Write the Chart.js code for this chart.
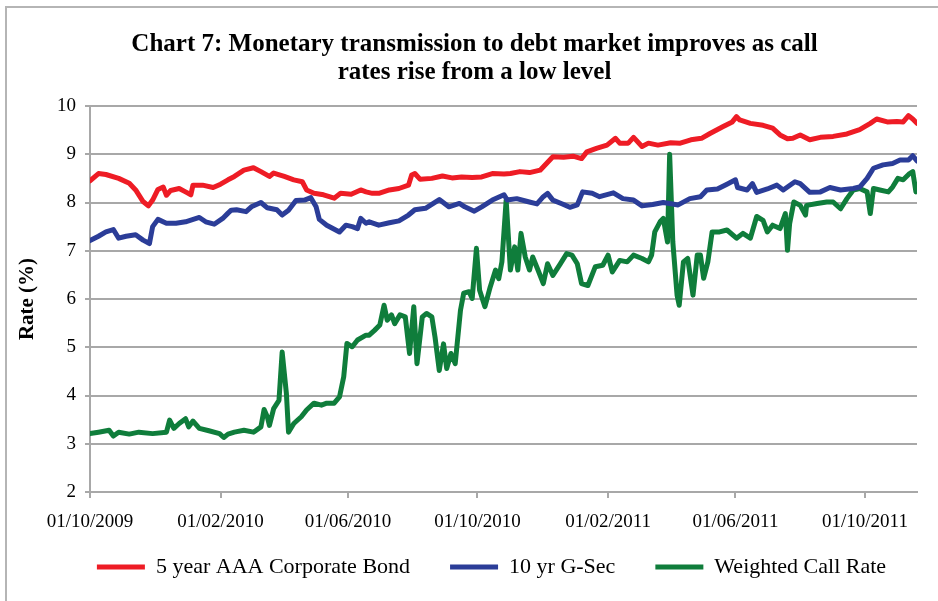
<!DOCTYPE html>
<html>
<head>
<meta charset="utf-8">
<script src="https://cdn.jsdelivr.net/npm/chart.js@4"></script>
<style>
  html, body { margin: 0; padding: 0; background: #fff; }
  #wrap { position: relative; width: 938px; height: 601px; }
  #frame { position: absolute; left: 5px; top: 6px; right: 0; bottom: 0;
           border-top: 2px solid #b5b5b5; border-left: 2px solid #b5b5b5; pointer-events: none; }
  canvas { position: absolute; left: 0; top: 0; }
</style>
</head>
<body>
<div id="wrap">
  <canvas id="c" width="938" height="601"></canvas>
  <div id="frame"></div>
</div>
<script>
// Start date of the x axis (day 0) and the labelled tick dates
const startDate = '01/10/2009';
const tickDates = ['01/10/2009', '01/02/2010', '01/06/2010', '01/10/2010', '01/02/2011', '01/06/2011', '01/10/2011'];
const lastDay = 779; // about 18/11/2011

const seriesNames = ['5 year AAA Corporate Bond', '10 yr G-Sec', 'Weighted Call Rate'];

// 5 year AAA Corporate Bond (days since 01/10/2009, rate %)
const bondDays = [0,8,15,27,37,43,50,55,59,64,69,72,76,84,90,95,97,106,116,123,130,136,145,154,161,169,173,183,192,200,204,211,220,230,236,246,255,260,266,272,282,291,300,303,306,311,322,332,341,350,360,369,379,390,396,405,414,424,430,436,446,455,463,468,477,487,495,499,507,512,520,526,535,547,556,566,576,584,596,605,609,612,622,634,643,650,657,662,669,678,688,700,713,725,735,741,751,760,766,771,775,779];
const bondValues = [8.45,8.60,8.58,8.50,8.40,8.26,8.02,7.93,8.05,8.27,8.32,8.15,8.25,8.29,8.22,8.16,8.36,8.36,8.31,8.38,8.47,8.54,8.67,8.72,8.64,8.54,8.61,8.54,8.47,8.43,8.26,8.19,8.16,8.09,8.19,8.17,8.26,8.22,8.19,8.19,8.26,8.29,8.36,8.57,8.60,8.48,8.50,8.55,8.51,8.53,8.52,8.53,8.60,8.59,8.60,8.64,8.62,8.67,8.81,8.95,8.94,8.96,8.91,9.05,9.12,9.19,9.33,9.23,9.23,9.35,9.16,9.23,9.19,9.24,9.23,9.30,9.33,9.43,9.57,9.67,9.78,9.71,9.64,9.60,9.54,9.40,9.32,9.33,9.40,9.30,9.35,9.37,9.42,9.51,9.64,9.73,9.67,9.68,9.67,9.80,9.73,9.64];

// 10 yr G-Sec
const gsecDays = [0,8,15,22,27,34,43,50,56,59,64,72,81,90,103,109,117,125,130,133,138,147,152,161,167,176,181,187,194,202,208,213,216,223,235,241,247,252,255,260,263,272,282,291,300,306,316,329,338,348,353,362,369,379,390,393,402,412,421,427,431,436,445,452,459,464,473,480,493,502,512,520,530,540,546,554,565,575,581,591,600,608,610,619,624,628,638,647,653,664,669,678,688,697,707,719,725,732,738,747,756,763,771,775,779];
const gsecValues = [7.21,7.30,7.39,7.44,7.26,7.30,7.33,7.22,7.15,7.50,7.65,7.57,7.57,7.60,7.69,7.60,7.55,7.67,7.78,7.84,7.85,7.81,7.91,8.00,7.89,7.85,7.74,7.84,8.04,8.05,8.10,7.91,7.65,7.53,7.39,7.53,7.50,7.46,7.67,7.57,7.60,7.53,7.58,7.62,7.74,7.85,7.88,8.06,7.91,7.98,7.91,7.82,7.91,8.05,8.16,8.05,8.08,8.02,7.97,8.12,8.19,8.05,7.97,7.90,7.95,8.22,8.19,8.12,8.20,8.08,8.05,7.93,7.96,8.00,7.98,7.95,8.08,8.12,8.26,8.28,8.38,8.47,8.31,8.26,8.39,8.21,8.28,8.36,8.26,8.43,8.39,8.21,8.22,8.31,8.26,8.29,8.32,8.50,8.71,8.78,8.81,8.88,8.88,8.97,8.86];

// Weighted Call Rate
const callDays = [0,8,18,22,27,37,46,59,72,75,79,84,90,93,97,103,112,122,126,130,136,145,154,161,164,167,169,173,178,181,185,187,192,199,204,211,218,223,230,235,239,242,247,252,260,263,268,273,277,280,284,287,292,297,301,305,308,313,317,322,325,329,333,336,340,344,349,352,357,360,364,367,372,377,382,385,388,392,396,400,403,406,410,414,417,422,427,431,436,443,449,454,459,463,469,476,483,488,492,499,506,512,520,526,529,532,537,540,544,546,549,553,555,559,563,568,572,575,578,582,586,593,600,609,615,622,628,634,638,643,650,655,657,659,663,669,674,675,685,694,700,707,713,719,725,732,735,738,744,752,756,761,766,772,775,778];
const callValues = [3.21,3.24,3.28,3.16,3.24,3.20,3.24,3.21,3.24,3.49,3.32,3.42,3.52,3.35,3.47,3.32,3.27,3.21,3.13,3.20,3.24,3.28,3.24,3.35,3.71,3.56,3.38,3.73,3.90,4.90,4.04,3.24,3.42,3.56,3.70,3.84,3.80,3.84,3.84,3.97,4.39,5.08,5.01,5.15,5.25,5.25,5.35,5.46,5.87,5.56,5.67,5.49,5.67,5.63,4.87,5.84,4.66,5.63,5.70,5.63,5.21,4.52,5.07,4.56,4.87,4.66,5.77,6.12,6.15,6.01,7.05,6.18,5.84,6.25,6.60,6.42,6.77,8.05,6.60,7.08,6.60,7.36,6.87,6.60,6.87,6.60,6.32,6.73,6.49,6.73,6.94,6.91,6.73,6.32,6.28,6.67,6.70,6.91,6.56,6.80,6.77,6.91,6.84,6.77,6.91,7.39,7.60,7.67,7.18,9.00,7.18,6.08,5.87,6.77,6.84,6.08,6.91,6.91,6.43,6.77,7.39,7.39,7.43,7.26,7.36,7.26,7.71,7.63,7.39,7.53,7.46,7.77,7.01,7.56,8.01,7.94,7.74,7.94,7.98,8.01,8.01,7.87,8.08,8.26,8.29,8.22,7.77,8.29,8.26,8.22,8.32,8.50,8.47,8.60,8.64,8.22];

const seriesColors = ['#ee1c25', '#2b3d98', '#0f7d3b'];

function parseDMY(s) {
  const [d, m, y] = s.split('/').map(Number);
  return Date.UTC(y, m - 1, d);
}
const DAY = 86400000;
const t0 = parseDMY(startDate);
const tickDays = tickDates.map(s => Math.round((parseDMY(s) - t0) / DAY));
function dayLabel(v) {
  const i = tickDays.indexOf(Math.round(v));
  return i >= 0 ? tickDates[i] : '';
}
const zip = (xs, ys) => xs.map((x, i) => ({x: x, y: ys[i]}));

const serif = '"Liberation Serif", "Times New Roman", serif';
const gridGrey = '#a8a8a8';

// Place the legend row and title where the reference has them
const blockPlace = {
  id: 'blockPlace',
  afterLayout(chart) {
    const l = chart.legend;
    const dy = 516 - l.top, dx = 33;
    l.top += dy; l.left += dx; l.right += dx;
    l.bottom = chart.height; l.height = l.bottom - l.top;
    const t = chart.titleBlock;
    t.left += 16; t.right += 16;
  }
};

new Chart(document.getElementById('c'), {
  type: 'line',
  data: {
    datasets: [
      { label: seriesNames[0], data: zip(bondDays, bondValues) },
      { label: seriesNames[1], data: zip(gsecDays, gsecValues) },
      { label: seriesNames[2], data: zip(callDays, callValues) }
    ].map((d, i) => Object.assign(d, {
      borderColor: seriesColors[i], backgroundColor: seriesColors[i],
      borderWidth: 5, pointRadius: 0, tension: 0,
      borderJoinStyle: 'round', borderCapStyle: 'round'
    }))
  },
  plugins: [blockPlace],
  options: {
    responsive: false,
    animation: false,
    layout: { padding: { left: 0, right: 21, top: 0, bottom: 5 } },
    plugins: {
      title: {
        display: true,
        text: ['Chart 7: Monetary transmission to debt market improves as call', 'rates rise from a low level'],
        color: '#000',
        font: { family: serif, size: 25, weight: 'bold', lineHeight: 1.12 },
        padding: { top: 31, bottom: 19 }
      },
      legend: {
        position: 'bottom',
        maxHeight: 60,
        labels: {
          color: '#000',
          font: { family: serif, size: 22 },
          boxWidth: 48, boxHeight: 5, padding: 40,
          generateLabels: (chart) => Chart.defaults.plugins.legend.labels.generateLabels(chart).map(l => Object.assign(l, { lineWidth: 0 }))
        }
      },
      tooltip: { enabled: false }
    },
    scales: {
      x: {
        type: 'linear', min: 0, max: lastDay,
        afterBuildTicks: (s) => { s.ticks = tickDays.map(v => ({ value: v })); },
        afterFit: (s) => { s.height = 44; },
        ticks: { callback: (v) => dayLabel(v), color: '#000', font: { family: serif, size: 19 }, padding: 13, maxRotation: 0, autoSkip: false },
        grid: { drawOnChartArea: false, drawTicks: true, tickLength: 6, color: gridGrey, lineWidth: 2 },
        border: { display: true, color: gridGrey, width: 2 }
      },
      y: {
        min: 2, max: 10,
        afterFit: (s) => { s.width = 90; },
        ticks: { stepSize: 1, color: '#000', font: { family: serif, size: 19 }, padding: 9 },
        grid: { color: gridGrey, lineWidth: 2, tickLength: 5 },
        border: { display: true, color: gridGrey, width: 2 },
        title: { display: true, text: 'Rate (%)', color: '#000', font: { family: serif, size: 21, weight: 'bold' }, padding: { top: 15, bottom: 0 } }
      }
    }
  }
});
</script>
</body>
</html>
